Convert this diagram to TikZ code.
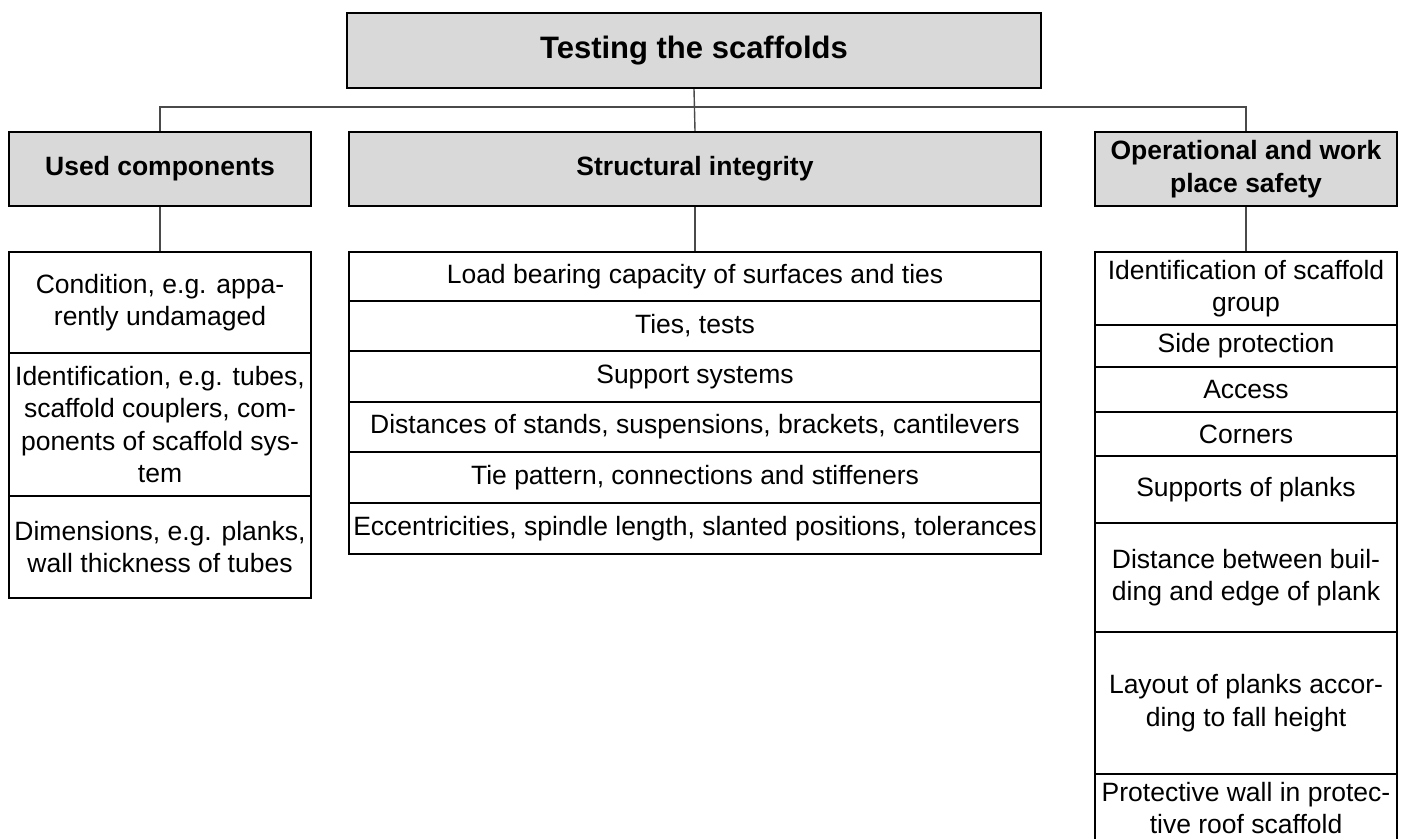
\documentclass[tikz,border=0pt]{standalone}
\usepackage{fontspec}
\setmainfont{Liberation Sans}
\definecolor{headgray}{HTML}{D9D9D9}
\definecolor{linkgray}{HTML}{4A4A4A}
\begin{document}
\begin{tikzpicture}[x=1pt,y=-1pt,
  box/.style={draw=black, line width=2.4pt, inner sep=0pt, align=center,
              font=\fontsize{26.5}{32.6}\selectfont},
  head/.style={box, fill=headgray, font=\bfseries\fontsize{26.5}{32.6}\selectfont},
  title/.style={head, font=\bfseries\fontsize{31}{37}\selectfont},
  link/.style={draw=linkgray, line width=1.4pt}]
\useasboundingbox (0,0) rectangle (1405,838);
\clip (0,0) rectangle (1405,838);

% top level
\node[title, minimum width=694, minimum height=75] (top) at (694,50.5) {Testing the scaffolds};

% second level headings
\node[head, minimum width=302, minimum height=74] (used)   at (160,169) {Used components};
\node[head, minimum width=692, minimum height=74] (struct) at (695,169) {Structural integrity};
\node[head, minimum width=302, minimum height=74] (ops)    at (1246,169) {Operational and work\\place safety};

% used components
\node[box, minimum width=302, minimum height=101] (u1) at (160,302.5) {Condition, e.g. appa-\\rently undamaged};
\node[box, minimum width=302, minimum height=143] (u2) at (160,424.5) {Identification, e.g. tubes,\\scaffold couplers, com-\\ponents of scaffold sys-\\tem};
\node[box, minimum width=302, minimum height=102] (u3) at (160,547) {Dimensions, e.g. planks,\\wall thickness of tubes};

% structural integrity
\node[box, minimum width=692, minimum height=49] (s1) at (695,276.5) {Load bearing capacity of surfaces and ties};
\node[box, minimum width=692, minimum height=50] (s2) at (695,326) {Ties, tests};
\node[box, minimum width=692, minimum height=51] (s3) at (695,376.5) {Support systems};
\node[box, minimum width=692, minimum height=50] (s4) at (695,427) {Distances of stands, suspensions, brackets, cantilevers};
\node[box, minimum width=692, minimum height=51] (s5) at (695,477.5) {Tie pattern, connections and stiffeners};
\node[box, minimum width=692, minimum height=51] (s6) at (695,528.5) {Eccentricities, spindle length, slanted positions, tolerances};

% operational and work place safety
\node[box, minimum width=302, minimum height=73]  (o1) at (1246,288.5) {Identification of scaffold\\group};
\node[box, minimum width=302, minimum height=42]  (o2) at (1246,346) {Side protection};
\node[box, minimum width=302, minimum height=45]  (o3) at (1246,389.5) {Access};
\node[box, minimum width=302, minimum height=44]  (o4) at (1246,434) {Corners};
\node[box, minimum width=302, minimum height=67]  (o5) at (1246,489.5) {Supports of planks};
\node[box, minimum width=302, minimum height=109] (o6) at (1246,577.5) {Distance between buil-\\ding and edge of plank};
\node[box, minimum width=302, minimum height=142] (o7) at (1246,703) {Layout of planks accor-\\ding to fall height};
\node[box, minimum width=302, minimum height=68]  (o8) at (1246,808) {Protective wall in protec-\\tive roof scaffold};

% connectors
\coordinate (bus) at (0,107);
\draw[link] (used.north) -- (used.north |- bus) -| (ops.north);
\draw[link] (top.south) -- (struct.north);
\draw[link] (used.south) -- (u1.north);
\draw[link] (struct.south) -- (s1.north);
\draw[link] (ops.south) -- (o1.north);
\end{tikzpicture}
\end{document}
